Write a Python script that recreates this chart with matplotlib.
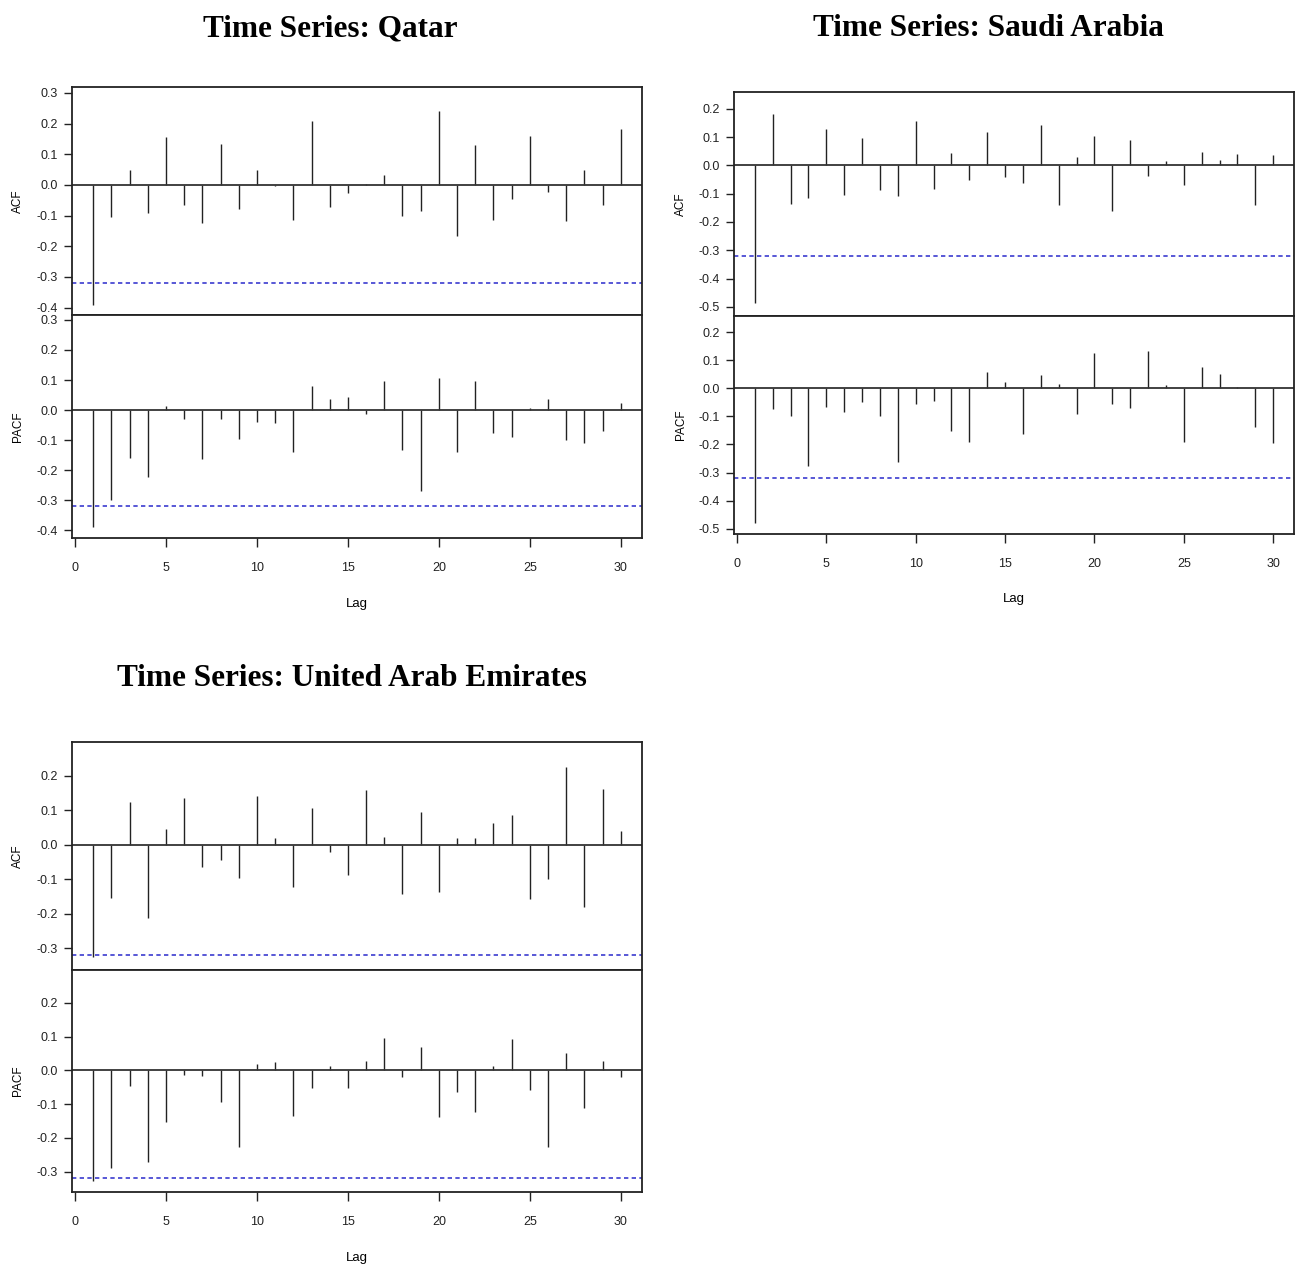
import numpy as np
import matplotlib
matplotlib.use("Agg")
import matplotlib.pyplot as plt
from matplotlib.ticker import MultipleLocator, FormatStrFormatter

plt.rcParams['axes.unicode_minus'] = False
plt.rcParams['font.family'] = ['Liberation Sans Narrow', 'Liberation Sans', 'DejaVu Sans']

lags = np.arange(1, 31)
ci_lower = -0.32

qatar_acf = [-0.39, -0.105, 0.048, -0.093, 0.157, -0.065, -0.125, 0.133, -0.08, 0.05,
             -0.005, -0.115, 0.207, -0.072, -0.025, 0.002, 0.032, -0.103, -0.085, 0.24,
             -0.168, 0.13, -0.115, -0.047, 0.158, -0.022, -0.118, 0.05, -0.065, 0.183]
qatar_pacf = [-0.39, -0.30, -0.16, -0.223, 0.012, -0.03, -0.162, -0.028, -0.095, -0.04,
              -0.043, -0.14, 0.08, 0.037, 0.043, -0.012, 0.097, -0.133, -0.27, 0.107,
              -0.14, 0.098, -0.077, -0.09, 0.006, 0.038, -0.10, -0.11, -0.07, 0.025]

saudi_acf = [-0.485, 0.18, -0.136, -0.115, 0.13, -0.103, 0.097, -0.086, -0.107, 0.157,
             -0.084, 0.042, -0.051, 0.119, -0.041, -0.062, 0.142, -0.14, 0.03, 0.103,
             -0.16, 0.09, -0.036, 0.015, -0.069, 0.048, 0.019, 0.041, -0.14, 0.036]
saudi_pacf = [-0.48, -0.072, -0.10, -0.276, -0.065, -0.083, -0.047, -0.10, -0.263, -0.057,
              -0.045, -0.152, -0.192, 0.058, 0.022, -0.162, 0.049, 0.017, -0.09, 0.127,
              -0.056, -0.069, 0.134, 0.013, -0.192, 0.076, 0.051, 0.004, -0.136, -0.195]

uae_acf = [-0.325, -0.153, 0.125, -0.213, 0.045, 0.135, -0.063, -0.045, -0.097, 0.141,
           0.021, -0.122, 0.107, -0.022, -0.089, 0.159, 0.022, -0.143, 0.096, -0.137,
           0.019, 0.019, 0.063, 0.087, -0.156, -0.099, 0.225, -0.18, 0.161, 0.04]
uae_pacf = [-0.327, -0.29, -0.045, -0.27, -0.154, -0.013, -0.017, -0.094, -0.228, 0.019,
            0.026, -0.136, -0.052, 0.013, -0.053, 0.027, 0.097, -0.019, 0.068, -0.139,
            -0.065, -0.122, 0.012, 0.094, -0.058, -0.228, 0.051, -0.111, 0.029, -0.021]

W, H = 1300, 1268
fig = plt.figure(figsize=(W / 100, H / 100), dpi=100)


def px_axes(left, top, right, bottom):
    return fig.add_axes([left / W, 1 - bottom / H, (right - left) / W, (bottom - top) / H])


def draw_panel(ax, values, ylim, ylabel, show_x):
    ax.vlines(lags, 0, values, color='#222222', linewidth=1.0)
    ax.axhline(0, color='#333333', linewidth=1.3)
    ax.axhline(ci_lower, color='#3b3bd0', linewidth=1.2, linestyle=(0, (2.6, 2.0)))
    ax.set_xlim(-0.16, 31.16)
    ax.set_ylim(*ylim)
    ax.yaxis.set_major_locator(MultipleLocator(0.1))
    ax.yaxis.set_major_formatter(FormatStrFormatter('%.1f'))
    ax.tick_params(axis='y', direction='out', length=6, width=1.0, pad=4,
                   labelsize=9, colors='#222222')
    for s in ax.spines.values():
        s.set_linewidth(1.3)
        s.set_color('#222222')
    ax.set_ylabel(ylabel, fontsize=8.5, family=['Liberation Sans', 'DejaVu Sans'])
    ax.yaxis.set_label_coords(-0.084, 0.5)
    if show_x:
        ax.xaxis.set_major_locator(MultipleLocator(5))
        ax.tick_params(axis='x', direction='out', length=6.5, width=1.0, pad=11,
                       labelsize=9, colors='#222222')
        ax.set_xlabel('Lag', fontsize=9.5)
        ax.xaxis.set_label_coords(0.5, -0.27)
    else:
        ax.set_xticks([])


panels = [
    ("Time Series: Qatar", 330, 29, (72, 87, 642, 315, 538), qatar_acf, qatar_pacf,
     (-0.424, 0.319), (-0.425, 0.316)),
    ("Time Series: Saudi Arabia", 988, 29, (734, 92, 1294, 316, 534), saudi_acf, saudi_pacf,
     (-0.532, 0.259), (-0.519, 0.258)),
    ("Time Series: United Arab Emirates", 352, 679, (72, 742, 642, 970, 1192), uae_acf, uae_pacf,
     (-0.363, 0.298), (-0.360, 0.297)),
]

for title, tx, ty, (l, t, r, m, b), acf, pacf, ylim_a, ylim_p in panels:
    fig.text(tx / W, 1 - ty / H, title, ha='center', va='center', fontsize=22.5,
             fontweight='bold', family=['Liberation Serif', 'DejaVu Serif'])
    ax_a = px_axes(l, t, r, m)
    ax_p = px_axes(l, m, r, b)
    draw_panel(ax_a, acf, ylim_a, 'ACF', False)
    draw_panel(ax_p, pacf, ylim_p, 'PACF', True)

fig.savefig('out.png', dpi=100, facecolor='white')
